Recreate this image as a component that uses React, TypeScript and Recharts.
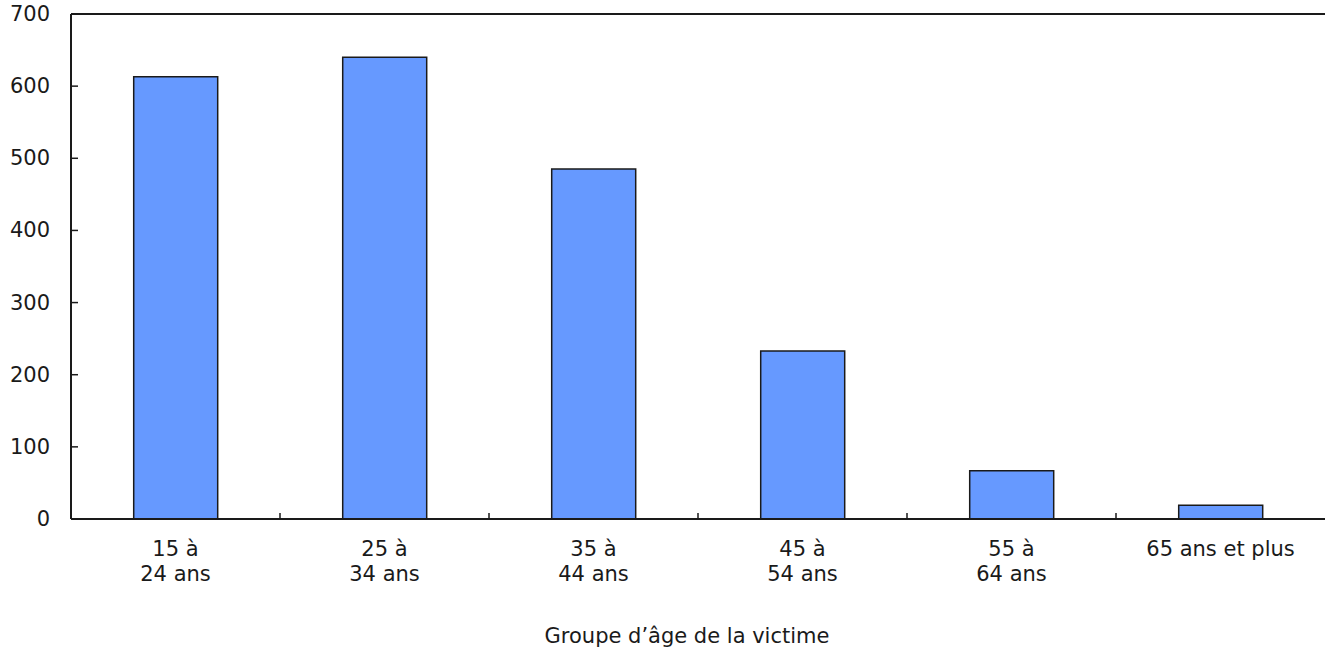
import React from 'react';
import { BarChart, Bar, XAxis, YAxis, ReferenceLine } from 'recharts';

const categories = ['15 à\n24 ans', '25 à\n34 ans', '35 à\n44 ans', '45 à\n54 ans', '55 à\n64 ans', '65 ans et plus'];
const victims = [613, 640, 485, 233, 67, 19];
const yTicks = [0, 100, 200, 300, 400, 500, 600, 700];
const xTitle = 'Groupe d’âge de la victime';

const data = categories.map((c, i) => ({ cat: c, value: victims[i] }));

const W = 1327;
const H = 649;
const LEFT = 71;
const RIGHT = 2;
const FONT = '"DejaVu Sans", Verdana, sans-serif';
const FS = 21;
const INK = '#1a1a1a';
const BAND = (W - LEFT - RIGHT) / categories.length;

const YTick = (props: any) => {
  const { x, y, payload } = props;
  return (
    <g>
      <line x1={x} y1={y} x2={x + 7} y2={y} stroke={INK} strokeWidth={1.5} />
      <text x={x - 21} y={y} textAnchor="end" dominantBaseline="central" fontFamily={FONT} fontSize={FS} fill={INK}>
        {payload.value}
      </text>
    </g>
  );
};

const XTick = (props: any) => {
  const { x, y, payload, index } = props;
  const lines = String(payload.value).split('\n');
  return (
    <g>
      {index < categories.length - 1 && (
        <line x1={x + BAND / 2} y1={y} x2={x + BAND / 2} y2={y - 6} stroke={INK} strokeWidth={1.5} />
      )}
      {lines.map((l, i) => (
        <text key={i} x={x} y={y + 30 + i * 25} textAnchor="middle" dominantBaseline="central" fontFamily={FONT} fontSize={FS} fill={INK}>
          {l}
        </text>
      ))}
    </g>
  );
};

const XLabel = (props: any) => {
  const { viewBox } = props;
  const cx = viewBox.x + viewBox.width / 2 - 11;
  return (
    <text x={cx} y={636} textAnchor="middle" dominantBaseline="central" fontFamily={FONT} fontSize={FS} fill={INK}>
      {xTitle}
    </text>
  );
};

export default function App() {
  return (
    <div style={{ position: 'absolute', left: 0, top: 0, width: W, height: H, background: '#fff' }}>
      <BarChart width={W} height={H} data={data} margin={{ top: 14, right: RIGHT, left: 0, bottom: 0 }} barCategoryGap="30%">
        <XAxis
          dataKey="cat"
          height={130}
          tickSize={0}
          tickMargin={0}
          tickLine={false}
          interval={0}
          axisLine={{ stroke: INK, strokeWidth: 2 }}
          tick={<XTick />}
          label={<XLabel />}
        />
        <YAxis
          width={LEFT}
          domain={[0, 700]}
          ticks={yTicks}
          tickSize={0}
          tickMargin={0}
          tickLine={false}
          axisLine={{ stroke: INK, strokeWidth: 2 }}
          tick={<YTick />}
        />
        <YAxis
          yAxisId="right"
          orientation="right"
          width={0}
          domain={[0, 700]}
          tick={false}
          tickLine={false}
          axisLine={{ stroke: INK, strokeWidth: 2 }}
        />
        <ReferenceLine y={700} stroke={INK} strokeWidth={2} />
        <Bar dataKey="value" fill="#6699FF" stroke={INK} strokeWidth={1.5} isAnimationActive={false} />
      </BarChart>
    </div>
  );
}
